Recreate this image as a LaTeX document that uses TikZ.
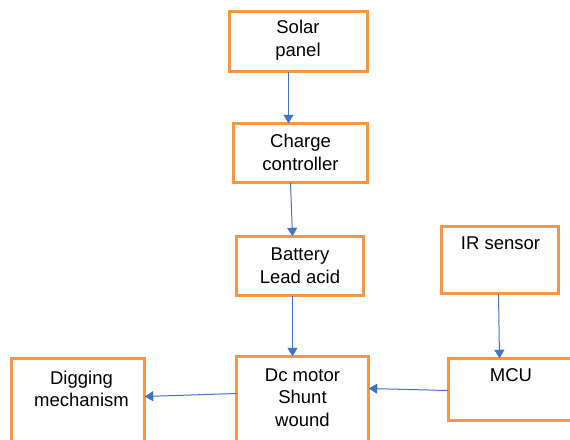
\documentclass[tikz,border=0pt]{standalone}
\usepackage{fontspec}
\setmainfont{Liberation Sans}
\usetikzlibrary{arrows.meta}
\definecolor{boxorange}{RGB}{247,150,70}
\definecolor{arrblue}{RGB}{68,114,196}
\tikzset{
  box/.style={draw=boxorange, line width=2.6pt, rectangle, inner sep=0pt, outer sep=0pt, fill=white},
  lbl/.style={align=center, inner sep=0pt, font=\fontsize{18.5}{22.5}\selectfont, text=black},
  arr/.style={draw=arrblue, line width=1pt, -{Triangle[length=8.5pt,width=10pt]}}
}
\begin{document}
\begin{tikzpicture}[x=1pt,y=-1pt]
\useasboundingbox (0,0) rectangle (570,439);
\clip (0,0) rectangle (570,439);
\fill[white] (0,0) rectangle (570,439);
% boxes
\node[box, minimum width=138.5pt, minimum height=60.5pt] (solar) at (298.5,41.5) {};
\node[box, minimum width=134.5pt, minimum height=59.5pt] (charge) at (300.5,153) {};
\node[box, minimum width=127.5pt, minimum height=59.5pt] (battery) at (300,266) {};
\node[box, minimum width=132.5pt, minimum height=87.5pt] (motor) at (302.5,400) {};
\node[box, minimum width=133.5pt, minimum height=85.5pt] (digging) at (78,401) {};
\node[box, minimum width=117.5pt, minimum height=67.5pt] (ir) at (500,260) {};
\node[box, minimum width=130.5pt, minimum height=62.5pt] (mcu) at (513.5,389.5) {};
% texts
\node[lbl] (tsolar) at (298,40) {Solar\\panel};
\node[lbl] (tcharge) at (300.5,152.5) {Charge\\controller};
\node[lbl] (tbattery) at (300,265.5) {Battery\\Lead acid};
\node[lbl] (tmotor) at (302.5,397.5) {Dc motor\\Shunt\\wound};
\node[lbl] (tdigging) at (81.5,389) {Digging\\mechanism};
\node[lbl] (tir) at (500.5,243) {IR sensor};
\node[lbl] (tmcu) at (511,375) {MCU};
% connectors
\draw[arr] (solar.south -| 288.5,0) -- (charge.north -| 288.5,0);
\draw[arr] (charge.south -| 290.5,0) -- (battery.north -| 292.5,0);
\draw[arr] (battery.south -| 292.5,0) -- (motor.north -| 292.5,0);
\draw[arr] (ir.south -| 498.5,0) -- (mcu.north -| 499.5,0);
\draw[arr] (mcu.west |- 0,390.5) -- (motor.east |- 0,388.5);
\draw[arr] (motor.west |- 0,393.5) -- (digging.east |- 0,396.5);
\end{tikzpicture}
\end{document}
